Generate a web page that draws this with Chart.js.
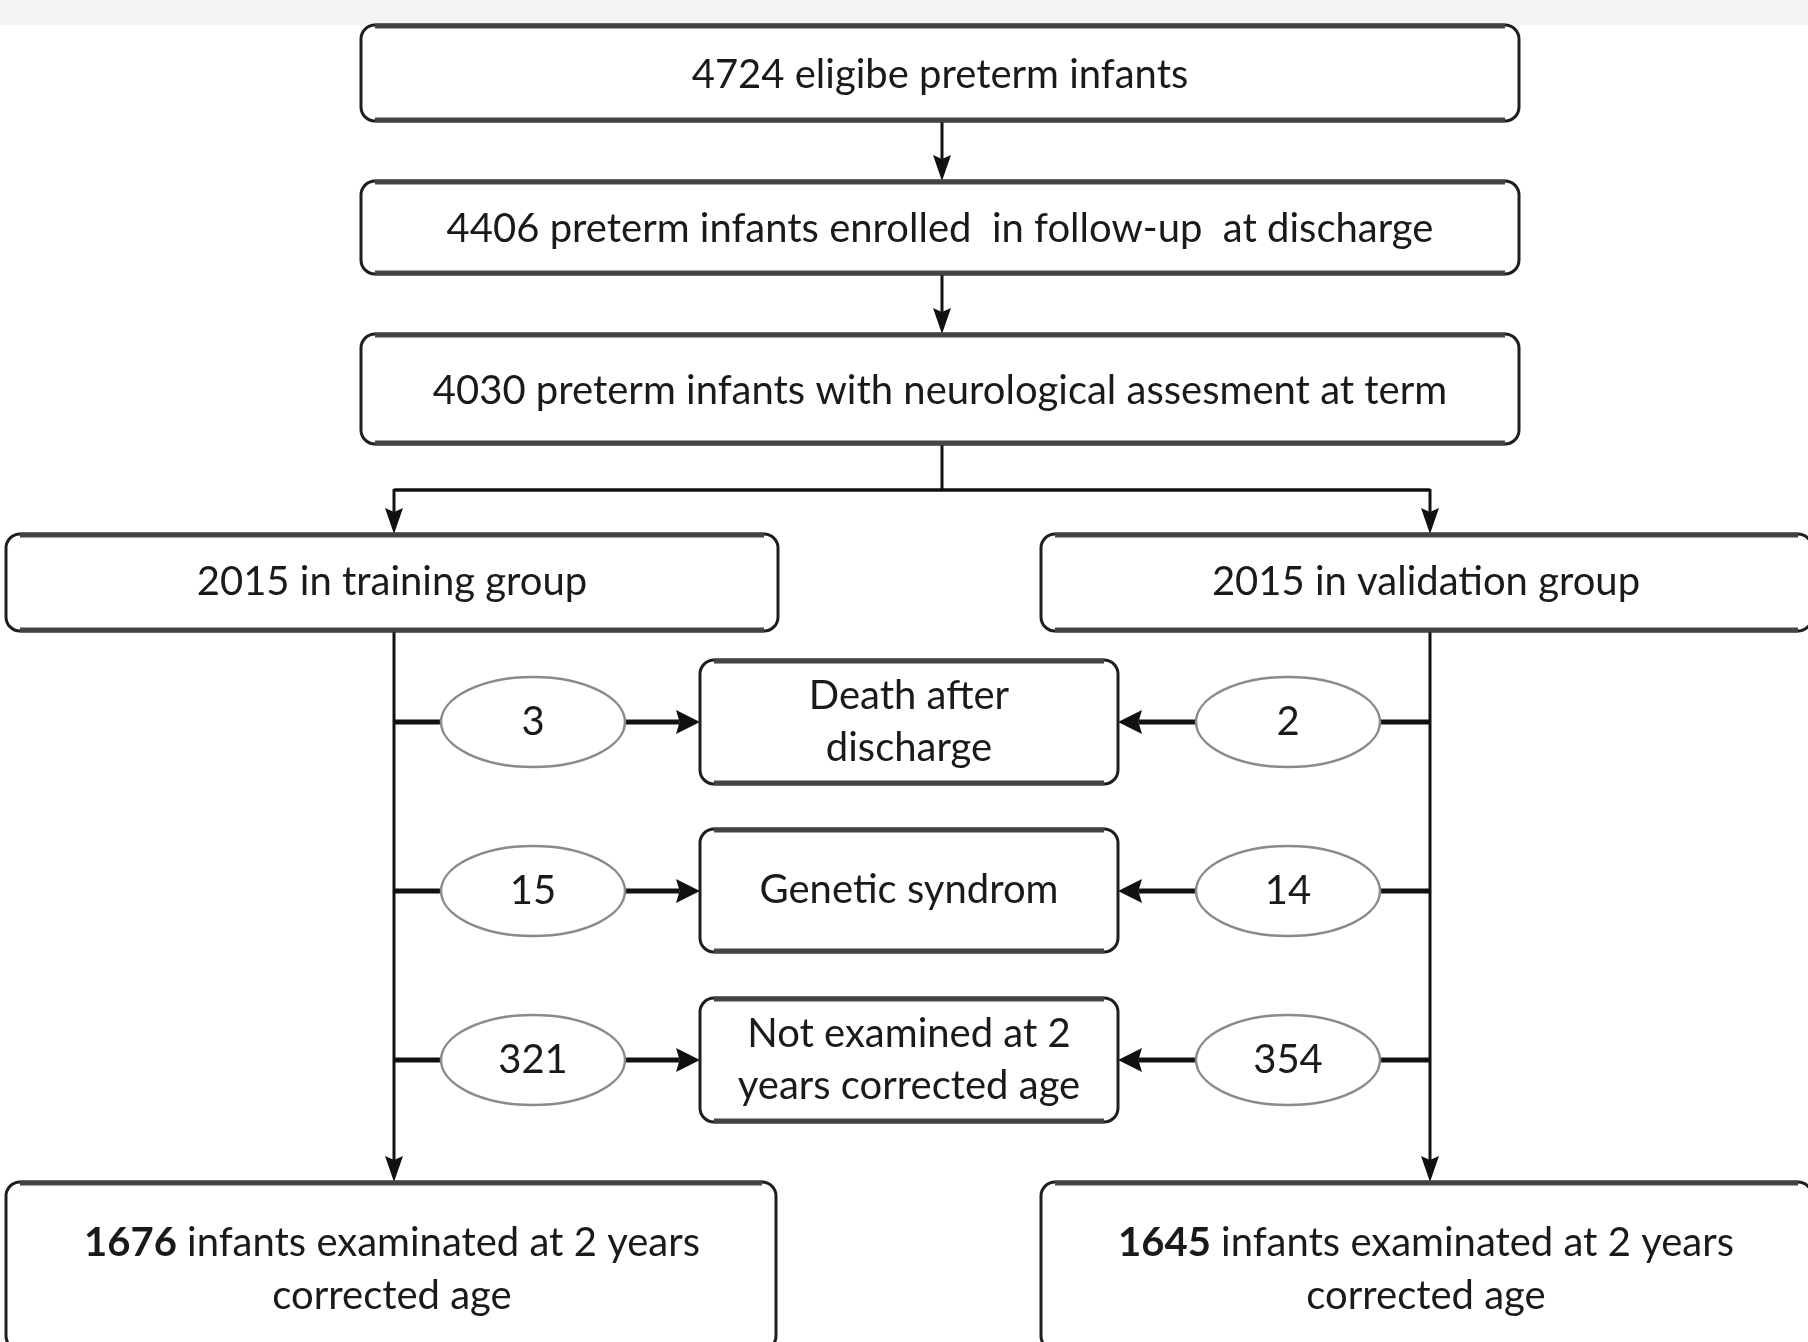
<!DOCTYPE html>
<html>
<head>
<meta charset="utf-8">
<script src="https://cdn.jsdelivr.net/npm/chart.js@4.4.1/dist/chart.umd.min.js"></script>
<style>
    html, body { margin: 0; padding: 0; background: #ffffff; }
    #wrap { width: 1808px; height: 1342px; position: relative; }
</style>
</head>
<body>
<div id="wrap"><canvas id="flow"></canvas></div>
<script>
// Flow of infants through the study
const stageLabels = [
    '4724 eligibe preterm infants',
    '4406 preterm infants enrolled  in follow-up  at discharge',
    '4030 preterm infants with neurological assesment at term'
];
const groupLabels = ['2015 in training group', '2015 in validation group'];
const exclusionReasons = [
    ['Death after', 'discharge'],
    ['Genetic syndrom'],
    ['Not examined at 2', 'years corrected age']
];
const trainingExcluded = [3, 15, 321];
const validationExcluded = [2, 14, 354];
const finalCounts = [1676, 1645];
const finalText = [' infants examinated at 2 years', 'corrected age'];

// Layout of the diagram (canvas units)
const W = 1808, H = 1342;
const stageBoxes = [[361, 25, 1519, 121], [361, 181, 1519, 274], [361, 334, 1519, 444]];
const groupBoxes = [[6, 534, 778, 631], [1041, 534, 1812, 631]];
const reasonBoxes = [[700, 660, 1118, 784], [700, 829, 1118, 952], [700, 998, 1118, 1122]];
const finalBoxes = [[6, 1182, 776, 1350], [1041, 1182, 1812, 1350]];
const rowY = [722, 891, 1060];
const branchX = [394, 1430];
const ovalX = [533, 1288];
const midX = 942;
const splitY = 490;

const FONT = 'Lato, "Open Sans", sans-serif';
const FS = 40;

const flowPlugin = {
    id: 'flowPlugin',
    afterDatasetsDraw(chart) {
        const ctx = chart.ctx;
        const sx = v => chart.scales.x.getPixelForValue(v);
        const sy = v => chart.scales.y.getPixelForValue(v);

        // light band at the very top
        ctx.save();
        ctx.fillStyle = '#f4f4f6';
        ctx.fillRect(sx(0), sy(0), sx(W) - sx(0), sy(25) - sy(0));
        ctx.restore();

        const box = (b) => {
            const x0 = sx(b[0]), y0 = sy(b[1]), x1 = sx(b[2]), y1 = sy(b[3]);
            ctx.save();
            ctx.beginPath();
            ctx.roundRect(x0, y0, x1 - x0, y1 - y0, 14);
            ctx.fillStyle = '#ffffff';
            ctx.fill();
            ctx.lineWidth = 3;
            ctx.strokeStyle = '#1e1e1e';
            ctx.stroke();
            // darker top and bottom edges
            ctx.beginPath();
            ctx.moveTo(x0 + 14, y0 + 1); ctx.lineTo(x1 - 14, y0 + 1);
            ctx.moveTo(x0 + 14, y1 - 1); ctx.lineTo(x1 - 14, y1 - 1);
            ctx.lineWidth = 5;
            ctx.strokeStyle = '#444444';
            ctx.stroke();
            ctx.restore();
        };

        const line = (x0, y0, x1, y1, lw) => {
            ctx.save();
            ctx.beginPath();
            ctx.moveTo(sx(x0), sy(y0));
            ctx.lineTo(sx(x1), sy(y1));
            ctx.lineWidth = lw;
            ctx.strokeStyle = '#111111';
            ctx.stroke();
            ctx.restore();
        };

        const arrow = (x0, y0, x1, y1, lw, len, half) => {
            const px0 = sx(x0), py0 = sy(y0), px1 = sx(x1), py1 = sy(y1);
            const ang = Math.atan2(py1 - py0, px1 - px0);
            const c = Math.cos(ang), s = Math.sin(ang);
            ctx.save();
            ctx.beginPath();
            ctx.moveTo(px0, py0);
            ctx.lineTo(px1 - c * len * 0.85, py1 - s * len * 0.85);
            ctx.lineWidth = lw;
            ctx.strokeStyle = '#111111';
            ctx.stroke();
            ctx.beginPath();
            ctx.moveTo(px1, py1);
            ctx.lineTo(px1 - c * len - s * half, py1 - s * len + c * half);
            ctx.lineTo(px1 - c * len * 0.85, py1 - s * len * 0.85);
            ctx.lineTo(px1 - c * len + s * half, py1 - s * len - c * half);
            ctx.closePath();
            ctx.fillStyle = '#111111';
            ctx.fill();
            ctx.restore();
        };

        const text = (str, cx, cy, weight) => {
            ctx.save();
            ctx.font = (weight || 'normal') + ' ' + FS + 'px ' + FONT;
            ctx.fillStyle = '#1a1a1a';
            ctx.textAlign = 'center';
            ctx.textBaseline = 'middle';
            ctx.fillText(str, sx(cx), sy(cy));
            ctx.restore();
        };

        const oval = (cx, cy, label) => {
            ctx.save();
            ctx.beginPath();
            ctx.ellipse(sx(cx), sy(cy), 92, 45, 0, 0, Math.PI * 2);
            ctx.fillStyle = '#ffffff';
            ctx.fill();
            ctx.lineWidth = 2.5;
            ctx.strokeStyle = '#8a8a8a';
            ctx.stroke();
            ctx.restore();
            text(String(label), cx, cy);
        };

        // connectors down the main column
        arrow(midX, 121, midX, 181, 3, 26, 9);
        arrow(midX, 274, midX, 334, 3, 26, 9);
        line(midX, 444, midX, splitY, 3);
        line(branchX[0], splitY, branchX[1], splitY, 3.5);
        branchX.forEach(bx => arrow(bx, splitY - 1, bx, 534, 3, 26, 9));

        // branch lines to final boxes
        branchX.forEach(bx => arrow(bx, 631, bx, 1182, 3, 26, 9));

        // exclusion rows
        rowY.forEach((y, i) => {
            line(branchX[0], y, ovalX[0] - 92, y, 5);
            arrow(ovalX[0] + 92, y, reasonBoxes[i][0], y, 5, 24, 12);
            line(branchX[1], y, ovalX[1] + 92, y, 5);
            arrow(ovalX[1] - 92, y, reasonBoxes[i][2], y, 5, 24, 12);
        });

        // boxes
        stageBoxes.forEach((b, i) => {
            box(b);
            text(stageLabels[i], (b[0] + b[2]) / 2, (b[1] + b[3]) / 2 + 2);
        });
        groupBoxes.forEach((b, i) => {
            box(b);
            text(groupLabels[i], i === 0 ? 392 : 1426, (b[1] + b[3]) / 2);
        });
        reasonBoxes.forEach((b, i) => {
            box(b);
            const lines = exclusionReasons[i];
            const cy = (b[1] + b[3]) / 2;
            lines.forEach((t, k) => text(t, (b[0] + b[2]) / 2, cy + (k - (lines.length - 1) / 2) * 52));
        });
        rowY.forEach((y, i) => {
            oval(ovalX[0], y, trainingExcluded[i]);
            oval(ovalX[1], y, validationExcluded[i]);
        });
        finalBoxes.forEach((b, i) => {
            box(b);
            const cx = i === 0 ? 392 : 1426;
            // bold count followed by regular text, centred together
            ctx.save();
            ctx.font = 'bold ' + FS + 'px ' + FONT;
            const wNum = ctx.measureText(String(finalCounts[i])).width;
            ctx.font = 'normal ' + FS + 'px ' + FONT;
            const wRest = ctx.measureText(finalText[0]).width;
            const start = sx(cx) - (wNum + wRest) / 2;
            ctx.fillStyle = '#1a1a1a';
            ctx.textBaseline = 'middle';
            ctx.textAlign = 'left';
            ctx.font = 'bold ' + FS + 'px ' + FONT;
            ctx.fillText(String(finalCounts[i]), start, sy(1243));
            ctx.font = 'normal ' + FS + 'px ' + FONT;
            ctx.fillText(finalText[0], start + wNum, sy(1243));
            ctx.restore();
            text(finalText[1], cx, 1296);
        });
    }
};

new Chart(document.getElementById('flow'), {
    type: 'scatter',
    data: {
        datasets: [{
            data: stageLabels.map((s, i) => ({ x: midX, y: (stageBoxes[i][1] + stageBoxes[i][3]) / 2 })),
            pointRadius: 0
        }]
    },
    options: {
        responsive: true,
        maintainAspectRatio: false,
        animation: false,
        devicePixelRatio: 1,
        layout: { padding: 0 },
        plugins: { legend: { display: false }, tooltip: { enabled: false } },
        scales: {
            x: { type: 'linear', min: 0, max: W, display: false },
            y: { type: 'linear', min: 0, max: H, reverse: true, display: false }
        }
    },
    plugins: [flowPlugin]
});
</script>
</body>
</html>
